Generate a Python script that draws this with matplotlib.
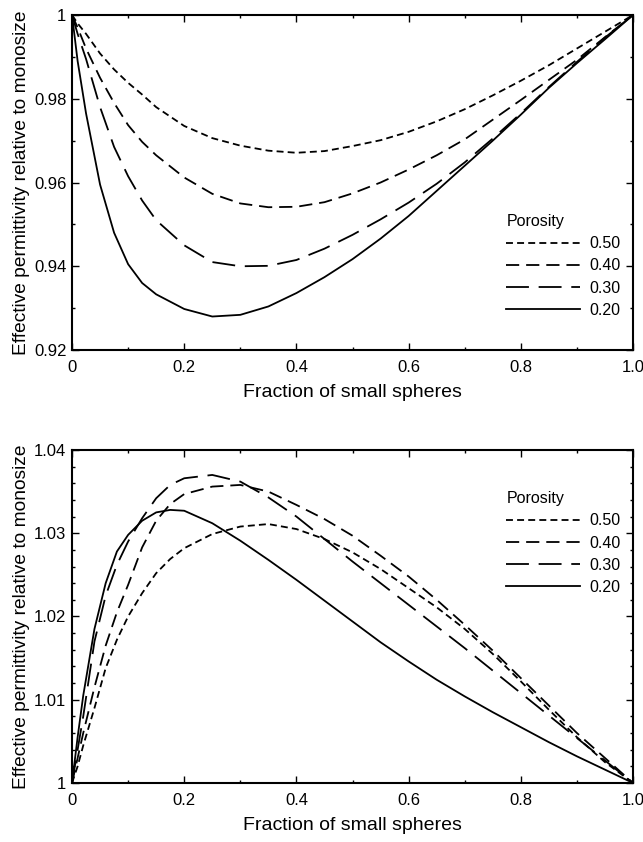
import matplotlib.pyplot as plt
from matplotlib.ticker import MultipleLocator

plt.rcParams['font.family'] = ['Liberation Sans', 'DejaVu Sans']
plt.rcParams['lines.scale_dashes'] = False

# fraction of small spheres in the binary mixture
frac_top = [0, 0.01, 0.025, 0.05, 0.075, 0.1, 0.125, 0.15, 0.2, 0.25, 0.3, 0.35, 0.4,
            0.45, 0.5, 0.55, 0.6, 0.65, 0.7, 0.75, 0.8, 0.85, 0.9, 0.95, 1.0]
top_050 = [1.0, 0.998, 0.9955, 0.9908, 0.987, 0.9838, 0.981, 0.978, 0.9735, 0.9706,
           0.9688, 0.9676, 0.9671, 0.9675, 0.9687, 0.9701, 0.9721, 0.9746, 0.9775,
           0.9808, 0.9843, 0.988, 0.992, 0.996, 1.0]
top_040 = [1.0, 0.997, 0.992, 0.985, 0.979, 0.9737, 0.9697, 0.9665, 0.9612, 0.9573,
           0.955, 0.9541, 0.9542, 0.9553, 0.9574, 0.96, 0.9631, 0.9665, 0.9703,
           0.975, 0.9797, 0.9845, 0.9893, 0.9947, 1.0]
top_030 = [1.0, 0.9955, 0.9895, 0.978, 0.9685, 0.9615, 0.9557, 0.951, 0.945, 0.941,
           0.940, 0.9401, 0.9415, 0.9442, 0.9475, 0.9512, 0.9552, 0.9597, 0.9648,
           0.9705, 0.9765, 0.9828, 0.9888, 0.9946, 1.0]
top_020 = [1.0, 0.989, 0.9765, 0.9595, 0.948, 0.9405, 0.936, 0.9333, 0.9298, 0.928,
           0.9284, 0.9304, 0.9336, 0.9374, 0.9417, 0.9466, 0.952, 0.958, 0.964,
           0.970, 0.9762, 0.9826, 0.9885, 0.9942, 1.0]

frac_bot = [0, 0.01, 0.02, 0.04, 0.06, 0.08, 0.1, 0.125, 0.15, 0.175, 0.2, 0.25, 0.3,
            0.35, 0.4, 0.45, 0.5, 0.55, 0.6, 0.65, 0.7, 0.75, 0.8, 0.85, 0.9, 0.95, 1.0]
bot_050 = [1.0, 1.002, 1.0045, 1.009, 1.0138, 1.0172, 1.0200, 1.0228, 1.0252, 1.0269,
           1.0282, 1.0299, 1.0308, 1.0311, 1.0305, 1.0293, 1.0277, 1.0257, 1.0234,
           1.0211, 1.0185, 1.0155, 1.0122, 1.0088, 1.0055, 1.0025, 1.0]
bot_040 = [1.0, 1.003, 1.006, 1.0115, 1.0165, 1.0205, 1.0238, 1.0283, 1.0315, 1.0335,
           1.0347, 1.0356, 1.0358, 1.035, 1.0334, 1.0317, 1.0297, 1.0273, 1.0248,
           1.022, 1.019, 1.0159, 1.0126, 1.0093, 1.006, 1.003, 1.0]
bot_030 = [1.0, 1.004, 1.008, 1.017, 1.0225, 1.0262, 1.029, 1.0318, 1.0342, 1.0358,
           1.0366, 1.037, 1.0362, 1.0343, 1.032, 1.0293, 1.0266, 1.024, 1.0214,
           1.0188, 1.0162, 1.0135, 1.0108, 1.0081, 1.0054, 1.0027, 1.0]
bot_020 = [1.0, 1.0055, 1.0105, 1.0185, 1.024, 1.0278, 1.0298, 1.0315, 1.0325, 1.0328,
           1.0327, 1.0312, 1.0291, 1.0268, 1.0244, 1.0219, 1.0194, 1.0169, 1.0146,
           1.0124, 1.0104, 1.0085, 1.0067, 1.0049, 1.0032, 1.0016, 1.0]

porosity = ['0.50', '0.40', '0.30', '0.20']
dashes = [(0, (5, 3)), (0, (9.5, 5)), (0, (16.5, 7)), '-']

x_ticks = [0, 0.2, 0.4, 0.6, 0.8, 1.0]
x_labels = ['0', '0.2', '0.4', '0.6', '0.8', '1.0']
top_yticks = [0.92, 0.94, 0.96, 0.98, 1.0]
top_ylabels = ['0.92', '0.94', '0.96', '0.98', '1']
bot_yticks = [1.0, 1.01, 1.02, 1.03, 1.04]
bot_ylabels = ['1', '1.01', '1.02', '1.03', '1.04']

fig = plt.figure(figsize=(6.43, 8.42), dpi=100)
ax1 = fig.add_axes([0.112, 0.5843, 0.8725, 0.3979])
ax2 = fig.add_axes([0.112, 0.0701, 0.8725, 0.3955])


def style_axes(ax, yticks, ylabels, yminor, leg_y):
    ax.set_xlim(0, 1)
    ax.set_ylim(yticks[0], yticks[-1])
    ax.set_xticks(x_ticks, x_labels)
    ax.set_yticks(yticks, ylabels)
    ax.xaxis.set_minor_locator(MultipleLocator(0.1))
    ax.yaxis.set_minor_locator(MultipleLocator(yminor))
    ax.tick_params(which='both', direction='in', top=True, right=True,
                   labelsize=12, width=1)
    ax.tick_params(which='major', length=5)
    ax.tick_params(which='minor', length=2.5)
    ax.tick_params(axis='x', pad=7)
    ax.tick_params(axis='y', pad=4)
    for s in ax.spines.values():
        s.set_linewidth(1.5)
    ax.set_xlabel('Fraction of small spheres', fontsize=14, labelpad=7)
    ax.set_ylabel('Effective permittivity relative to monosize', fontsize=13.8,
                  labelpad=3)
    leg = ax.legend(title='Porosity', frameon=False, loc='upper left',
                    bbox_to_anchor=(0.76, leg_y), borderpad=0,
                    handlelength=4.6, handletextpad=0.6, labelspacing=0.45,
                    fontsize=11.5, title_fontsize=11.5, alignment='left')
    leg.get_title().set_position((0, 0))


for vals, lab, ls in zip([top_050, top_040, top_030, top_020], porosity, dashes):
    ax1.plot(frac_top, vals, color='black', lw=1.3, linestyle=ls, label=lab)
for vals, lab, ls in zip([bot_050, bot_040, bot_030, bot_020], porosity, dashes):
    ax2.plot(frac_bot, vals, color='black', lw=1.3, linestyle=ls, label=lab)

style_axes(ax1, top_yticks, top_ylabels, 0.01, 0.43)
style_axes(ax2, bot_yticks, bot_ylabels, 0.002, 0.9)

fig.savefig('out.png', dpi=100)
